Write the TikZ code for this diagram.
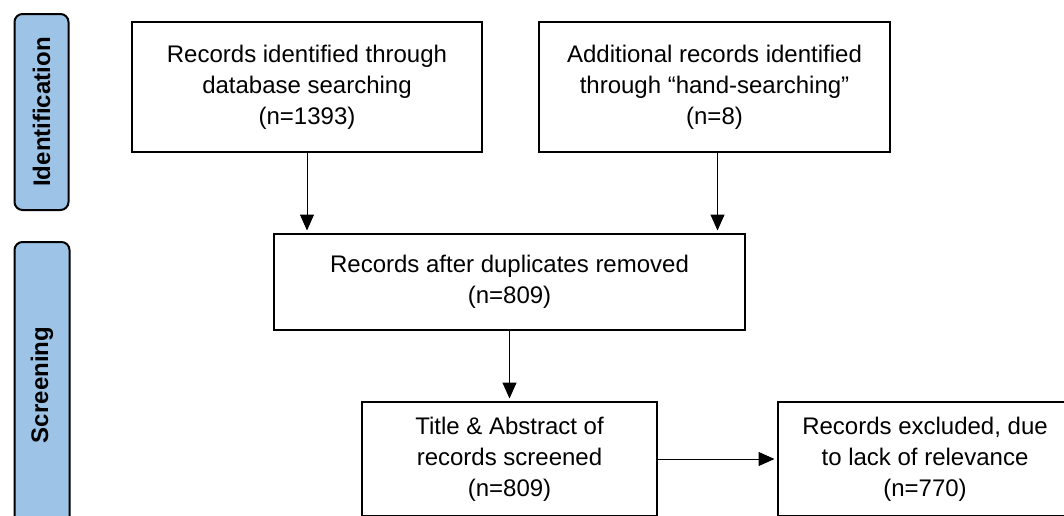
\documentclass[tikz,border=0pt]{standalone}
\usepackage{fontspec}
\setmainfont{Liberation Sans}
\usetikzlibrary{arrows.meta}
\definecolor{phase}{HTML}{9DC3E6}
\tikzset{
  txt/.style={font=\fontsize{24}{31}\selectfont, align=center, inner sep=0pt},
  flowbox/.style={txt, draw=black, line width=2pt, fill=white},
  phasebox/.style={draw=black, line width=2pt, fill=phase, rounded corners=8pt,
    rotate=90, font=\bfseries\fontsize{24}{29}\selectfont, inner sep=0pt},
  arr/.style={line width=1pt, shorten >=2.5pt, -{Triangle[length=16pt,width=14pt]}}
}
\begin{document}
\begin{tikzpicture}[x=1pt,y=-1pt]
\useasboundingbox (0,0) rectangle (1064,515);
\clip (0,0) rectangle (1064,515);
\fill[white] (0,0) rectangle (1064,515);

\node[phasebox, minimum width=196pt, minimum height=54pt] (idf) at (41.5,112) {Identification};
\node[phasebox, minimum width=286pt, minimum height=55pt] (scr) at (42,385) {Screening};

\node[flowbox, minimum width=350pt, minimum height=130pt] (b1) at (307,87)
  {Records identified through\\database searching\\(n=1393)};
\node[flowbox, minimum width=351pt, minimum height=130pt] (b2) at (714.5,87)
  {Additional records identified\\through “hand-searching”\\(n=8)};
\node[flowbox, minimum width=471pt, minimum height=96pt] (b3) at (509.5,282)
  {Records after duplicates removed\\(n=809)};
\node[flowbox, minimum width=295pt, minimum height=114pt] (b4) at (509.5,459)
  {Title \& Abstract of\\records screened\\(n=809)};
\node[flowbox, minimum width=294pt, minimum height=114pt] (b5) at (925,459)
  {Records excluded, due\\to lack of relevance\\(n=770)};

\draw[arr] (b1.south) -- (b1.south |- b3.north);
\draw[arr] ([xshift=3pt]b2.south) -- ([xshift=3pt]b2.south |- b3.north);
\draw[arr] (b3.south) -- (b4.north);
\draw[arr] (b4.east) -- (b5.west);
\end{tikzpicture}
\end{document}
